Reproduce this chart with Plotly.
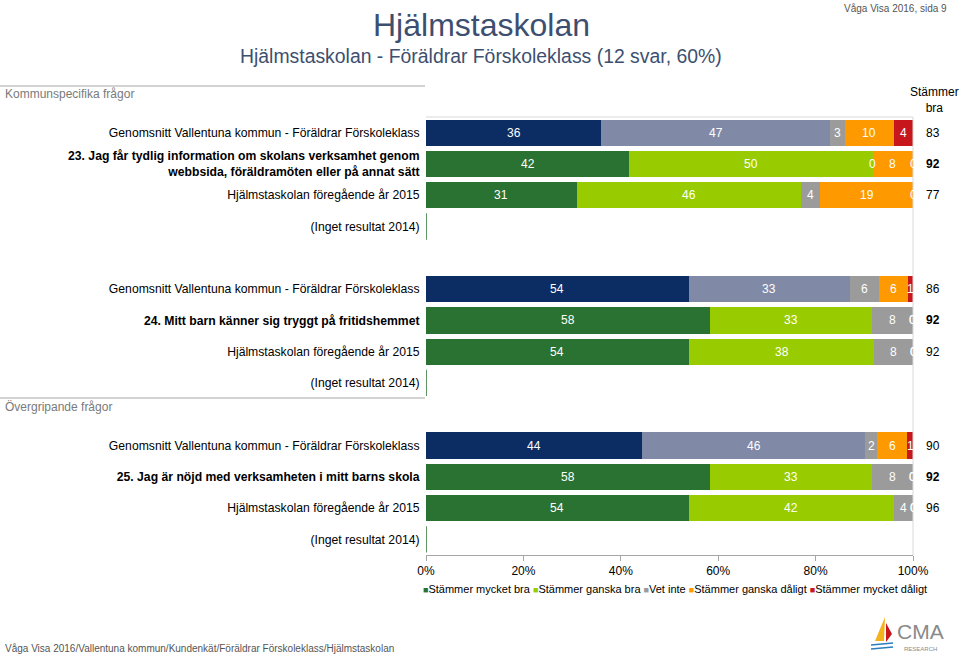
import plotly.graph_objects as go

# ---------------- data ----------------
row_labels = [
    "Genomsnitt Vallentuna kommun - Föräldrar Förskoleklass",
    "<b>23. Jag får tydlig information om skolans verksamhet genom<br>webbsida, föräldramöten eller på annat sätt</b>",
    "Hjälmstaskolan föregående år 2015",
    "(Inget resultat 2014)",
    "",
    "Genomsnitt Vallentuna kommun - Föräldrar Förskoleklass",
    "<b>24. Mitt barn känner sig tryggt på fritidshemmet</b>",
    "Hjälmstaskolan föregående år 2015",
    "(Inget resultat 2014)",
    "",
    "Genomsnitt Vallentuna kommun - Föräldrar Förskoleklass",
    "<b>25. Jag är nöjd med verksamheten i mitt barns skola</b>",
    "Hjälmstaskolan föregående år 2015",
    "(Inget resultat 2014)",
]
row_kind = ["kommun", "question", "prev", "none", "blank",
            "kommun", "question", "prev", "none", "blank",
            "kommun", "question", "prev", "none"]

series_names = ["Stämmer mycket bra", "Stämmer ganska bra", "Vet inte",
                "Stämmer ganska dåligt", "Stämmer mycket dåligt"]
# percentages (labels show them rounded)
mycket_bra = [36, 41.7, 31, None, None, 54, 58.3, 54, None, None, 44.4, 58.3, 54, None]
ganska_bra = [47, 50, 46, None, None, 33, 33.3, 38, None, None, 45.8, 33.3, 42, None]
vet_inte = [3, 0, 4, None, None, 6, 8.3, 8, None, None, 2.4, 8.3, 4, None]
ganska_daligt = [10, 8.3, 19, None, None, 6, 0, 0, None, None, 6.2, 0, 0, None]
mycket_daligt = [4, 0, 0, None, None, 1, 0, 0, None, None, 1.2, 0, 0, None]
stammer_bra = [83, 92, 77, None, None, 86, 92, 92, None, None, 90, 92, 96, None]

x_ticks = [0, 20, 40, 60, 80, 100]
x_ticklabels = ["0%", "20%", "40%", "60%", "80%", "100%"]

school_colors = ["#2a7232", "#99cc00", "#9b9b9b", "#ff9900", "#c8161d"]
kommun_colors = ["#0c2d63", "#8089a6", "#9b9b9b", "#ff9900", "#c8161d"]

series_values = [mycket_bra, ganska_bra, vet_inte, ganska_daligt, mycket_daligt]

# ---------------- layout geometry ----------------
W, H = 960, 657
ML, MR, MT, MB = 426, 47, 117, 102
PW = W - ML - MR
PH = H - MT - MB


def px(xp):
    return (xp - ML) / PW


def py(yp):
    return (H - MB - yp) / PH


FONT = "Liberation Sans, Arial, sans-serif"
BAR_W = 0.84

fig = go.Figure()
rows = list(range(len(row_labels)))

for si, name in enumerate(series_names):
    vals = series_values[si]
    for group, colors in (("kommun", kommun_colors), ("other", school_colors)):
        ys, xs = [], []
        for r in rows:
            if vals[r] is None:
                continue
            is_k = row_kind[r] == "kommun"
            if (group == "kommun") == is_k:
                ys.append(r)
                xs.append(vals[r])
        fig.add_trace(go.Bar(
            x=xs, y=ys, orientation="h", name=name,
            marker=dict(color=colors[si], line=dict(width=0)),
            width=BAR_W, showlegend=False, hoverinfo="x+name",
        ))

annotations = []
shapes = []

# segment labels
for r in rows:
    if mycket_bra[r] is None:
        continue
    cum = 0
    for si in range(len(series_names)):
        v = series_values[si][r]
        annotations.append(dict(
            x=cum + v / 2, y=r, xref="x", yref="y", text=str(int(round(v))),
            showarrow=False, font=dict(family=FONT, size=12, color="white"),
            xanchor="center", yanchor="middle",
        ))
        cum += v

# "no result" markers at zero
for r in rows:
    if row_kind[r] == "none":
        shapes.append(dict(type="line", xref="x", yref="y", x0=0, x1=0,
                           y0=r - BAR_W / 2, y1=r + BAR_W / 2,
                           line=dict(color="#2a7232", width=1.5)))

# Stämmer bra column
annotations.append(dict(x=px(934), y=py(100), xref="paper", yref="paper",
                        text="Stämmer<br>bra", showarrow=False,
                        font=dict(family=FONT, size=12, color="black"),
                        xanchor="center", yanchor="middle"))
for r in rows:
    if stammer_bra[r] is None:
        continue
    t = str(stammer_bra[r])
    if row_kind[r] == "question":
        t = "<b>" + t + "</b>"
    annotations.append(dict(x=px(933), y=r, xref="paper", yref="y", text=t,
                            showarrow=False,
                            font=dict(family=FONT, size=12, color="black"),
                            xanchor="center", yanchor="middle"))

# titles
annotations += [
    dict(x=px(481), y=py(25), xref="paper", yref="paper", text="Hjälmstaskolan",
         showarrow=False, font=dict(family=FONT, size=32, color="#3d4f6f"),
         xanchor="center", yanchor="middle"),
    dict(x=px(481), y=py(56), xref="paper", yref="paper",
         text="Hjälmstaskolan - Föräldrar Förskoleklass (12 svar, 60%)",
         showarrow=False, font=dict(family=FONT, size=19.4, color="#3d4f6f"),
         xanchor="center", yanchor="middle"),
    dict(x=px(949), y=py(8), xref="paper", yref="paper", text="Våga Visa 2016, sida 9",
         showarrow=False, font=dict(family=FONT, size=10, color="#555555"),
         xanchor="right", yanchor="middle"),
    dict(x=px(3), y=py(94), xref="paper", yref="paper", text="Kommunspecifika frågor",
         showarrow=False, font=dict(family=FONT, size=12, color="#7a7a7a"),
         xanchor="left", yanchor="middle"),
    dict(x=px(3), y=py(407), xref="paper", yref="paper", text="Övergripande frågor",
         showarrow=False, font=dict(family=FONT, size=12, color="#7a7a7a"),
         xanchor="left", yanchor="middle"),
    dict(x=px(3), y=py(648), xref="paper", yref="paper",
         text="Våga Visa 2016/Vallentuna kommun/Kundenkät/Föräldrar Förskoleklass/Hjälmstaskolan",
         showarrow=False, font=dict(family=FONT, size=10, color="#555555"),
         xanchor="left", yanchor="middle"),
]

# legend built from series names / colors
leg_parts = []
for name, c in zip(series_names, school_colors):
    leg_parts.append('<span style="color:%s;font-size:9px">■</span>%s' % (c, name))
annotations.append(dict(x=px(675), y=py(589), xref="paper", yref="paper",
                        text=" ".join(leg_parts), showarrow=False,
                        font=dict(family=FONT, size=11, color="black"),
                        xanchor="center", yanchor="middle"))

# section lines
for yl in (86, 398):
    shapes.append(dict(type="line", xref="paper", yref="paper",
                       x0=px(0), x1=px(425), y0=py(yl), y1=py(yl),
                       line=dict(color="#a6a6a6", width=1)))
# plot frame top and right
shapes.append(dict(type="line", xref="paper", yref="paper", x0=0, x1=1, y0=1, y1=1,
                   line=dict(color="#d9d9d9", width=1)))
shapes.append(dict(type="line", xref="paper", yref="paper", x0=1, x1=1, y0=0, y1=1,
                   line=dict(color="#d9d9d9", width=1)))

# logo
def path(points):
    return "M " + " L ".join("%f,%f" % (px(a), py(b)) for a, b in points) + " Z"

shapes.append(dict(type="path", xref="paper", yref="paper",
                   path=path([(885, 617), (875, 641), (884, 641)]),
                   fillcolor="#f2b31c", line=dict(width=0)))
shapes.append(dict(type="path", xref="paper", yref="paper",
                   path=path([(886, 623), (892, 634), (886, 642)]),
                   fillcolor="#c8161d", line=dict(width=0)))
for yy in (645, 649):
    shapes.append(dict(type="line", xref="paper", yref="paper",
                       x0=px(871), x1=px(893), y0=py(yy), y1=py(yy - 2),
                       line=dict(color="#2a7ec0", width=1.5)))
annotations.append(dict(x=px(920), y=py(631), xref="paper", yref="paper", text="CMA",
                        showarrow=False, font=dict(family=FONT, size=21, color="#8a8a8a"),
                        xanchor="center", yanchor="middle"))
annotations.append(dict(x=px(920), y=py(649), xref="paper", yref="paper", text="RESEARCH",
                        showarrow=False, font=dict(family=FONT, size=6, color="#8a8a8a"),
                        xanchor="center", yanchor="middle"))

fig.update_layout(
    width=W, height=H, autosize=False,
    margin=dict(l=ML, r=MR, t=MT, b=MB, pad=0),
    paper_bgcolor="white", plot_bgcolor="white",
    barmode="stack", bargap=0,
    showlegend=False,
    font=dict(family=FONT, size=12, color="black"),
    annotations=annotations, shapes=shapes,
    xaxis=dict(range=[0, 100], tickvals=x_ticks, ticktext=x_ticklabels,
               showgrid=False, zeroline=False, showline=True, linecolor="#a6a6a6",
               ticks="outside", ticklen=5, tickcolor="#a6a6a6",
               tickfont=dict(family=FONT, size=12, color="black"), fixedrange=True),
    yaxis=dict(range=[len(rows) - 0.5, -0.5], tickvals=rows, ticktext=row_labels,
               showgrid=False, zeroline=False, showline=False,
               ticks="outside", ticklen=3, tickcolor="rgba(0,0,0,0)",
               tickfont=dict(family=FONT, size=12.2, color="black"), fixedrange=True),
)

fig.write_html("out.html", config={"displayModeBar": False},
               post_script="document.body.style.margin='0px';")
